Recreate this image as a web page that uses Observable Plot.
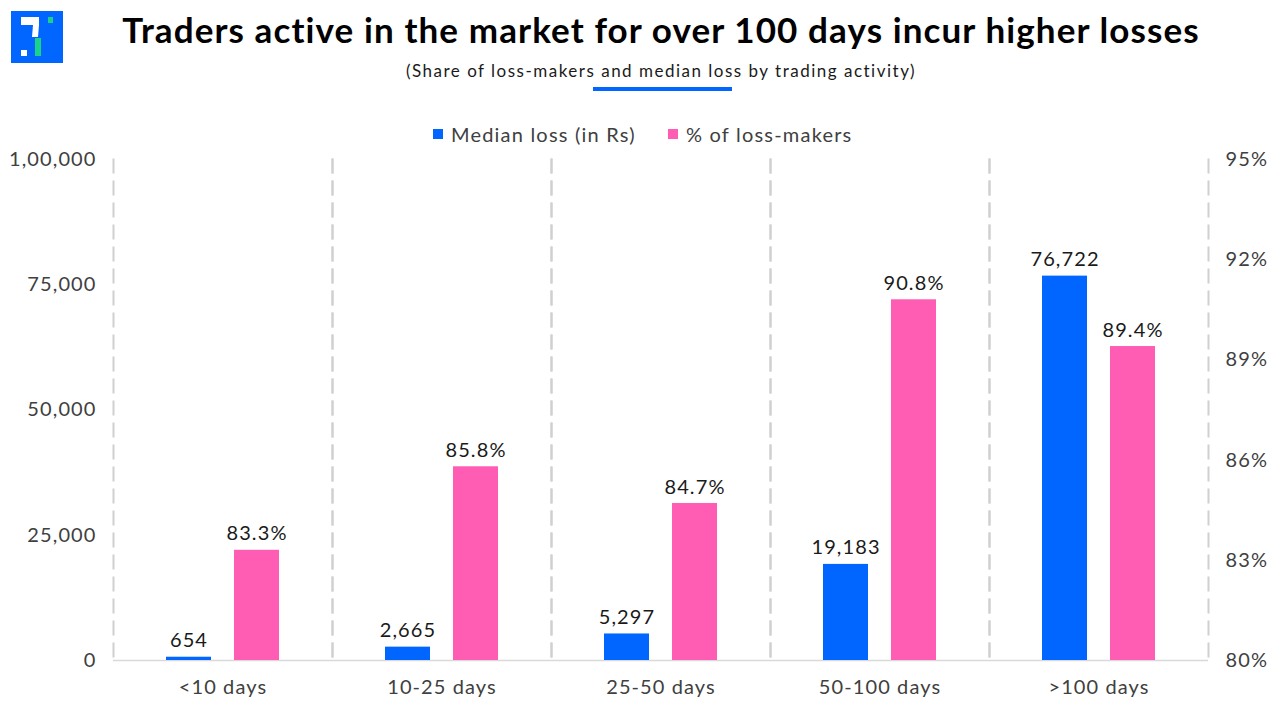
<!DOCTYPE html>
<html>
<head>
<meta charset="utf-8">
<script src="https://cdn.jsdelivr.net/npm/d3@7"></script>
<script src="https://cdn.jsdelivr.net/npm/@observablehq/plot@0.6"></script>
<style>
  body { margin: 0; background: #fff; font-family: Lato, "Open Sans", sans-serif; }
  #wrap { position: relative; width: 1280px; height: 720px; overflow: hidden; }
  #header { position: relative; width: 1280px; height: 140px; }
  #title { position: absolute; left: 0; width: 1322px; top: 8px; text-align: center; font-size: 35px; font-weight: 700; color: #000; letter-spacing: 1.1px; }
  #subtitle { position: absolute; left: 0; width: 1322px; top: 60px; text-align: center; font-size: 17px; color: #1a1a1a; letter-spacing: 1.5px; }
  #underline { position: absolute; left: 593px; top: 87px; width: 139px; height: 4px; background: #0066ff; }
  #logo { position: absolute; left: 11px; top: 11px; }
  #legend { position: absolute; top: 122px; left: 0; width: 1280px; font-size: 20px; color: #404040; letter-spacing: 1.2px; }
  .item { position: absolute; display: flex; align-items: center; }
  .sw { width: 10px; height: 10px; margin-right: 8px; }
  #chart svg text { letter-spacing: 1.1px; }
</style>
</head>
<body>
<div id="wrap">
  <div id="header">
    <svg id="logo" width="52" height="52" viewBox="0 0 52 52">
      <rect width="52" height="52" fill="#0066ff"/>
      <rect x="10" y="6" width="18" height="8" fill="#fff"/>
      <polygon points="22,14 28,14 27,26 21,26" fill="#fff"/>
      <polygon points="24,27 30,27 30,45 24,45" fill="#19d38a"/>
      <rect x="37" y="6" width="5" height="6" fill="#19d38a"/>
      <rect x="10" y="39" width="6" height="6" fill="#fff"/>
    </svg>
    <div id="title"></div>
    <div id="subtitle"></div>
    <div id="underline"></div>
    <div id="legend"></div>
  </div>
  <div id="chart"></div>
</div>
<script>
const titleText = "Traders active in the market for over 100 days incur higher losses";
const subtitleText = "(Share of loss-makers and median loss by trading activity)";
const categories = ["<10 days", "10-25 days", "25-50 days", "50-100 days", ">100 days"];
const seriesNames = ["Median loss (in Rs)", "% of loss-makers"];
const medianLoss = [654, 2665, 5297, 19183, 76722];
const lossShare = [83.3, 85.8, 84.7, 90.8, 89.4];
const leftTicks = [0, 25000, 50000, 75000, 100000];
const rightTicks = [80, 83, 86, 89, 92, 95];
const leftDomain = [0, 100000];
const rightDomain = [80, 95];
const colors = ["#0066ff", "#ff5cb4"];

document.getElementById("title").textContent = titleText;
document.getElementById("subtitle").textContent = subtitleText;

const legend = document.getElementById("legend");
const legendLeft = [433, 668];
seriesNames.forEach((name, i) => {
  const d = document.createElement("div");
  d.className = "item";
  d.style.left = legendLeft[i] + "px";
  d.innerHTML = `<span class="sw" style="background:${colors[i]}"></span><span></span>`;
  d.lastChild.textContent = name;
  legend.appendChild(d);
});

const toLeft = p => (p - rightDomain[0]) / (rightDomain[1] - rightDomain[0]) * (leftDomain[1] - leftDomain[0]) + leftDomain[0];
const fromLeft = v => (v - leftDomain[0]) / (leftDomain[1] - leftDomain[0]) * (rightDomain[1] - rightDomain[0]) + rightDomain[0];

const rows = [];
categories.forEach((cat, i) => {
  rows.push({cat, series: seriesNames[0], y: medianLoss[i], label: medianLoss[i].toLocaleString("en-IN")});
  rows.push({cat, series: seriesNames[1], y: toLeft(lossShare[i]), label: lossShare[i].toFixed(1) + "%"});
});

const dash = {stroke: "#d0d0d0", strokeWidth: 2, strokeDasharray: "13,9"};

const chart = Plot.plot({
  width: 1280,
  height: 580,
  marginLeft: 113,
  marginRight: 72,
  marginTop: 19,
  marginBottom: 60,
  style: {fontSize: "20px", fontFamily: "Lato, 'Open Sans', sans-serif", color: "#404040", background: "#fff"},
  fx: {domain: categories, padding: 0, label: null},
  x: {domain: seriesNames, paddingInner: 0.333, paddingOuter: 0.754, axis: null},
  y: {domain: leftDomain, axis: null},
  color: {domain: seriesNames, range: colors},
  marks: [
    Plot.frame({anchor: "left", ...dash}),
    Plot.frame({anchor: "right", ...dash}),
    Plot.ruleY([0], {stroke: "#d9d9d9", strokeWidth: 1.5}),
    Plot.barY(rows, {fx: "cat", x: "series", y: "y", fill: "series"}),
    Plot.text(rows, {fx: "cat", x: "series", y: "y", text: "label", dy: -10, lineAnchor: "bottom", fill: "#1a1a1a", fontSize: 20}),
    Plot.axisY({anchor: "left", ticks: leftTicks, tickFormat: d => d.toLocaleString("en-IN"), tickSize: 0, tickPadding: 17, label: null}),
    Plot.axisY({anchor: "right", ticks: rightTicks.map(toLeft), tickFormat: v => Math.round(fromLeft(v)) + "%", tickSize: 0, tickPadding: 17, label: null}),
    Plot.axisFx({anchor: "bottom", tickSize: 0, tickPadding: 19, label: null})
  ]
});
document.getElementById("chart").appendChild(chart);
</script>
</body>
</html>
